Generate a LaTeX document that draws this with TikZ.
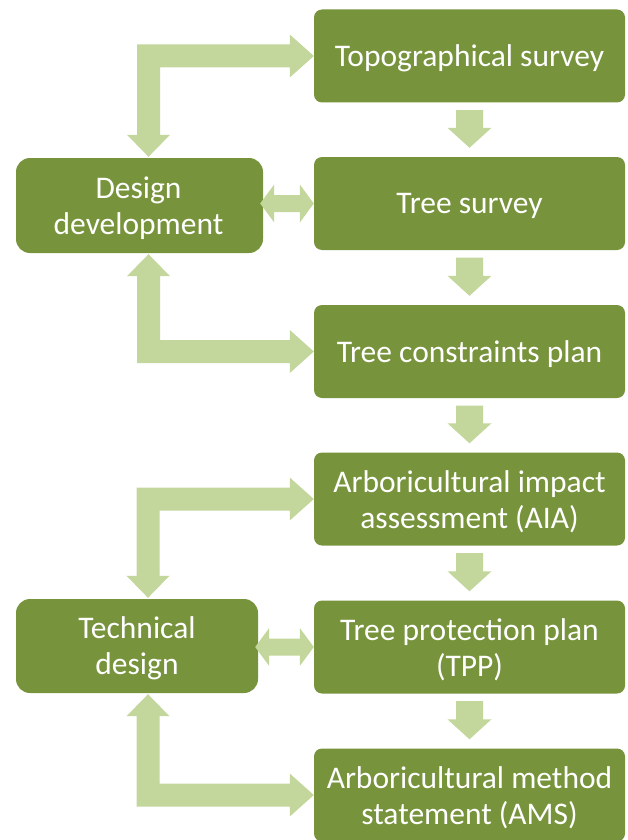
\documentclass[tikz,border=0pt]{standalone}
\usepackage{fontspec}
\setmainfont{Carlito}
\usetikzlibrary{calc}
\definecolor{boxgreen}{HTML}{77933C}
\definecolor{arrowgreen}{HTML}{C3D69B}
\begin{document}
\begin{tikzpicture}[x=1pt,y=-1pt,
  stagebox/.style={fill=boxgreen, rounded corners=8pt, minimum width=311pt,
    minimum height=93pt, inner sep=0pt},
  designbox/.style={stagebox, rounded corners=14pt, minimum height=95pt},
  boxtext/.style={text=white, align=center, inner sep=0pt,
    font=\fontsize{31.5}{36.5}\selectfont},
  blockarrow/.style={fill=arrowgreen}]
\useasboundingbox (0,0) rectangle (628,840);
% stage boxes
\node[stagebox] (topo) at (469.5,56) {};
\node[stagebox] (tree) at (469.5,203.5) {};
\node[stagebox] (tcp)  at (469.5,351.5) {};
\node[stagebox] (aia)  at (469.5,499) {};
\node[stagebox] (tpp)  at (469.5,647) {};
\node[stagebox] (ams)  at (469.5,795) {};
% design boxes
\node[designbox, minimum width=247pt] (dd) at (139.5,205.5) {};
\node[designbox, minimum width=242pt, minimum height=94pt] (td) at (137,646) {};
% texts
\node[boxtext] (topo-t) at ($(topo.center)+(0,2.5)$) {Topographical survey};
\node[boxtext] (tree-t) at ($(tree.center)+(0,2.5)$) {Tree survey};
\node[boxtext] (tcp-t)  at ($(tcp.center)+(0,2.5)$) {Tree constraints plan};
\node[boxtext] (aia-t)  at ($(aia.center)+(0,2.5)$) {Arboricultural impact\\assessment (AIA)};
\node[boxtext] (tpp-t)  at ($(tpp.center)+(0,2.5)$) {Tree protection plan\\(TPP)};
\node[boxtext] (ams-t)  at ($(ams.center)+(0,2.5)$) {Arboricultural method\\statement (AMS)};
\node[boxtext] (dd-t)   at ($(dd.center)+(-1,2.5)$) {Design\\development};
\node[boxtext] (td-t)   at ($(td.center)+(0,2.5)$) {Technical\\design};
% down arrows
\foreach \a/\b in {topo/tree, tree/tcp, tcp/aia, aia/tpp, tpp/ams}{
  \fill[blockarrow]
    ($(\a.south)+(-13.5,7.5)$) -- ($(\b.north)+(-13.5,-29)$) -- ($(\b.north)+(-22,-29)$)
    -- ($(\b.north)+(0,-9)$) -- ($(\b.north)+(22,-29)$) -- ($(\b.north)+(13.5,-29)$)
    -- ($(\a.south)+(13.5,7.5)$) -- cycle;
}
% double arrows
\foreach \l/\r in {dd/tree, td/tpp}{
  \coordinate (A) at ($(\l.east |- \r.west)+(-3,0)$);
  \fill[blockarrow]
    (A) -- ($(A)+(14,-19)$) -- ($(A)+(14,-8.5)$) -- ($(\r.west)+(-14,-8.5)$)
    -- ($(\r.west)+(-14,-19)$) -- (\r.west) -- ($(\r.west)+(-14,19)$)
    -- ($(\r.west)+(-14,8.5)$) -- ($(A)+(14,8.5)$) -- ($(A)+(14,19)$) -- cycle;
}
% L-shaped arrows: down into design box
\foreach \r/\d/\s in {topo/dd/9, aia/td/11}{
  \coordinate (R) at (\r.west);
  \coordinate (V) at ($(\d.north)+(\s,-1)$);
  \coordinate (Vl) at ($(V)+(-11.5,0)$);
  \coordinate (Vr) at ($(V)+(11.5,0)$);
  \coordinate (Rt) at ($(R)+(0,-11.5)$);
  \coordinate (Rb) at ($(R)+(0,11.5)$);
  \fill[blockarrow]
    (R) -- ($(R)+(-24,-21.5)$) -- ($(R)+(-24,-11.5)$)
    -- (Vl |- Rt)
    -- ($(V)+(-11.5,-22)$) -- ($(V)+(-21.5,-22)$) -- (V)
    -- ($(V)+(21.5,-22)$) -- ($(V)+(11.5,-22)$)
    -- (Vr |- Rb)
    -- ($(R)+(-24,11.5)$) -- ($(R)+(-24,21.5)$) -- cycle;
}
% L-shaped arrows: up into design box
\foreach \r/\d/\s in {tcp/dd/9, ams/td/11}{
  \coordinate (R) at (\r.west);
  \coordinate (V) at ($(\d.south)+(\s,1)$);
  \coordinate (Vl) at ($(V)+(-11.5,0)$);
  \coordinate (Vr) at ($(V)+(11.5,0)$);
  \coordinate (Rt) at ($(R)+(0,-11.5)$);
  \coordinate (Rb) at ($(R)+(0,11.5)$);
  \fill[blockarrow]
    (R) -- ($(R)+(-24,21.5)$) -- ($(R)+(-24,11.5)$)
    -- (Vl |- Rb)
    -- ($(V)+(-11.5,22)$) -- ($(V)+(-21.5,22)$) -- (V)
    -- ($(V)+(21.5,22)$) -- ($(V)+(11.5,22)$)
    -- (Vr |- Rt)
    -- ($(R)+(-24,-11.5)$) -- ($(R)+(-24,-21.5)$) -- cycle;
}
\end{tikzpicture}
\end{document}
